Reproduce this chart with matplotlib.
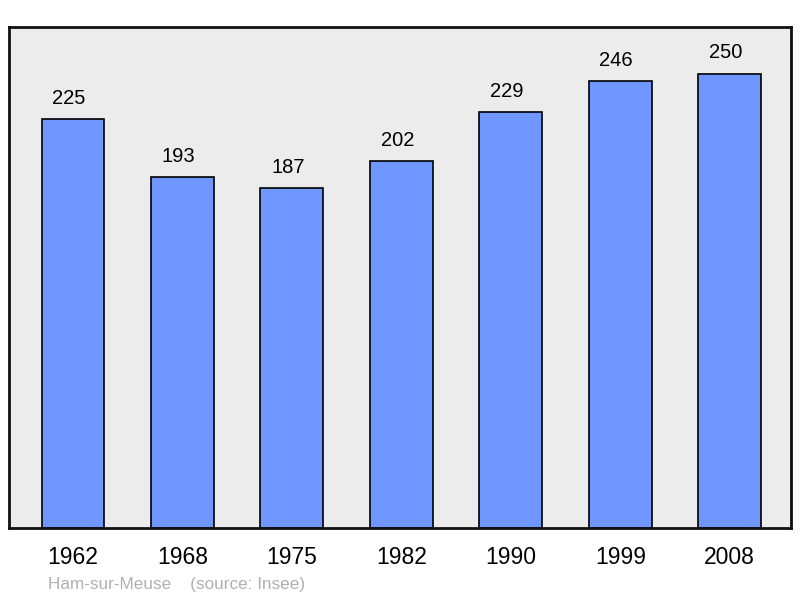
import matplotlib
matplotlib.use("Agg")
import matplotlib.pyplot as plt

years = ["1962", "1968", "1975", "1982", "1990", "1999", "2008"]
population = [225, 193, 187, 202, 229, 246, 250]
place = "Ham-sur-Meuse"
source = "(source: Insee)"

plt.rcParams['font.family'] = ['Liberation Sans', 'DejaVu Sans']

fig = plt.figure(figsize=(8, 5.98), dpi=100)
ax = fig.add_axes([9/800, 70/598, 782/800, 501/598])
ax.set_facecolor('#ececec')
x = list(range(len(years)))
bars = ax.bar(x, population, width=0.575, color='#7097ff', edgecolor='black', linewidth=1.2, zorder=2)
for xi, v in zip(x, population):
    ax.annotate(str(v), (xi, v), xytext=(-3, 8), textcoords='offset points',
                ha='center', va='bottom', fontsize=14.5)
ax.set_xlim(-0.585, 6.56)
ax.set_ylim(0, 275.6)
ax.set_yticks([])
ax.set_xticks(x)
ax.set_xticklabels(years, fontsize=16.5)
ax.tick_params(axis='x', length=0, pad=13)
for s in ax.spines.values():
    s.set_linewidth(2)
    s.set_color('#111111')
fig.text(48/800, 1 - 584/598, place + "    " + source, color='#b0b0b0', fontsize=12.3, va='center', ha='left')
fig.savefig('out.png', dpi=100, facecolor='white')
